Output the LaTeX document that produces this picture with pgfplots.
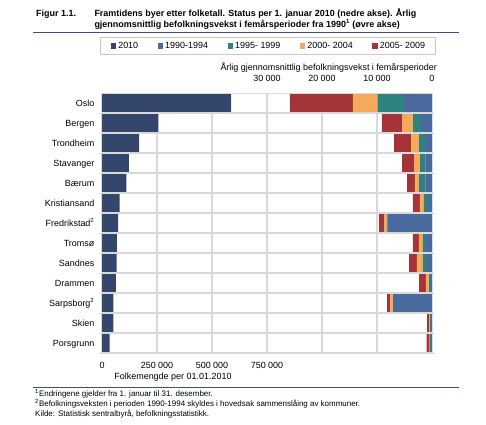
\documentclass[border=0pt]{standalone}
\usepackage{fontspec}
\setmainfont{Liberation Sans}
\usepackage{pgfplots}
\pgfplotsset{compat=1.18}
\usepackage{pgfplotstable}
\definecolor{c2010}{HTML}{34466B}
\definecolor{c9094}{HTML}{4A6A9D}
\definecolor{c9599}{HTML}{2E8380}
\definecolor{c0004}{HTML}{F5A95B}
\definecolor{c0509}{HTML}{A43437}
\definecolor{gridgray}{HTML}{D9D9D9}
\definecolor{rulecol}{HTML}{3D5080}
\definecolor{legbox}{HTML}{C8C8C8}

\pgfplotstableread{
idx pop g9094 g9599 g0004 g0509
0 586860 5100 4800 4500 11450
1 256600 2000 1450 2000 3640
2 168257 1090 1270 1450 3090
3 121610 1210 970 1090 2180
4 111200 1210 1150 730 1450
5 80109 730 730 730 1270
6 73638 8050 170 500 900
7 67305 1090 550 730 1090
8 66615 910 730 1090 1450
9 62815 180 360 550 1270
10 52159 6900 170 550 550
11 52133 180 180 180 360
12 34770 180 180 80 550
}\data

\newcommand{\f}[1]{\fontsize{#1}{#1}\selectfont}

\begin{document}
\begin{tikzpicture}
\path[use as bounding box] (0,0) rectangle (486bp,-425bp);

% title
\node[anchor=base west, inner sep=0pt, font=\bfseries\f{9}] at (36bp,-16.7bp) {Figur 1.1.};
\node[anchor=base west, inner sep=0pt, font=\bfseries\f{9}] at (94.3bp,-16.7bp) {Framtidens byer etter folketall. Status per 1. januar 2010 (nedre akse). Årlig};
\node[anchor=base west, inner sep=0pt, font=\bfseries\f{9}] at (94.3bp,-27.3bp) {gjennomsnittlig befolkningsvekst i femårsperioder fra 1990\textsuperscript{1} (øvre akse)};
\draw[rulecol, line width=1.5bp] (33bp,-32.3bp) -- (459bp,-32.3bp);

\begin{axis}[
  at={(102bp,-353bp)}, anchor=south west,
  scale only axis, width=330bp, height=260bp,
  xbar, bar width=17.7bp,
  xmin=0, xmax=1500000,
  ymin=-0.5, ymax=12.5, y dir=reverse,
  axis line style={draw=gridgray, line width=0.8bp},
  xtick={0,250000,500000,750000,1000000,1250000,1500000},
  xticklabels={0,250 000,500 000,750 000,{},{},{}},
  scaled x ticks=false,
  xtick style={draw=none},
  xmajorgrids, major grid style={draw=gridgray, line width=2bp},
  ytick={0,...,12},
  yticklabels={Oslo,Bergen,Trondheim,Stavanger,Bærum,Kristiansand,Fredrikstad\textsuperscript{2},Tromsø,Sandnes,Drammen,Sarpsborg\textsuperscript{2},Skien,Porsgrunn},
  major tick length=0pt,
  minor ytick={0.5,1.5,...,12.5},
  yminorgrids, minor grid style={draw=gridgray, line width=2.3bp},
  minor tick length=3bp, tick align=outside,
  minor tick style={draw=gridgray, line width=1bp},
  ticklabel style={font=\f{9}, inner sep=0pt},
  xticklabel style={anchor=base, yshift=-15.7bp},
  yticklabel style={anchor=base east, xshift=-7.5bp, yshift=-3.3bp},
  xlabel={Folkemengde per 01.01.2010},
  xlabel style={at={(axis description cs:0.215,0)}, anchor=base, yshift=-26bp, font=\f{9}, inner sep=0pt},
  /pgf/number format/assume math mode=true,
]
\addplot[fill=c2010, draw=none] table[x=pop, y=idx] {\data};
\end{axis}

\begin{axis}[
  at={(102bp,-353bp)}, anchor=south west,
  scale only axis, width=330bp, height=260bp,
  xbar stacked, bar width=17.7bp,
  xmin=0, xmax=60000, x dir=reverse,
  ymin=-0.5, ymax=12.5, y dir=reverse,
  axis x line*=top, axis y line=none,
  axis line style={draw=gridgray, line width=0.8bp},
  xtick={0,10000,20000,30000},
  xticklabels={0,10 000,20 000,30 000},
  scaled x ticks=false,
  xtick style={draw=none}, major tick length=0pt,
  ticklabel style={font=\f{9}, inner sep=0pt},
  xticklabel style={anchor=base, yshift=11.3bp},
  /pgf/number format/assume math mode=true,
  legend columns=5,
  legend image code/.code={\fill[#1] (0bp,-2.6bp) rectangle (5.2bp,2.6bp);},
  legend style={at={(axis description cs:0.503,1.181)}, anchor=center,
    draw=legbox, line width=0.6bp, font=\f{9},
    inner xsep=10.5bp, inner ysep=4.5bp,
    nodes={inner sep=0pt},
    /tikz/every odd column/.append style={column sep=2.3bp},
    /tikz/every even column/.append style={column sep=19.5bp}},
]
\addlegendimage{fill=c2010, draw=none}
\addlegendentry{2010}
\addplot[fill=c9094, draw=none] table[x=g9094, y=idx] {\data};
\addlegendentry{1990-1994}
\addplot[fill=c9599, draw=none] table[x=g9599, y=idx] {\data};
\addlegendentry{1995- 1999}
\addplot[fill=c0004, draw=none] table[x=g0004, y=idx] {\data};
\addlegendentry{2000- 2004}
\addplot[fill=c0509, draw=none] table[x=g0509, y=idx] {\data};
\addlegendentry{2005- 2009}
\end{axis}

\node[anchor=base east, inner sep=0pt, font=\f{9}] at (437bp,-70bp) {Årlig gjennomsnittlig befolkningsvekst i femårsperioder};

% footer
\draw[rulecol, line width=1.5bp] (33bp,-387.7bp) -- (459bp,-387.7bp);
\node[anchor=base west, inner sep=0pt, font=\f{8}] at (35bp,-396.5bp) {\textsuperscript{1}Endringene gjelder fra 1. januar til 31. desember.};
\node[anchor=base west, inner sep=0pt, font=\f{8}] at (35bp,-406.5bp) {\textsuperscript{2}Befolkningsveksten i perioden 1990-1994 skyldes i hovedsak sammenslåing av kommuner.};
\node[anchor=base west, inner sep=0pt, font=\f{8}] at (35bp,-416.5bp) {Kilde: Statistisk sentralbyrå, befolkningsstatistikk.};
\end{tikzpicture}
\end{document}
